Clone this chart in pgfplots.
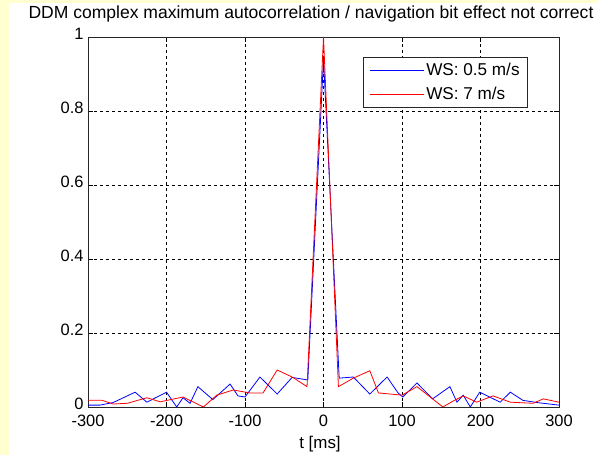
\documentclass[border=0pt]{standalone}
\usepackage{pgfplots}
\pgfplotsset{compat=1.18}
\usepackage{fontspec}
\setmainfont{Liberation Sans}
\definecolor{bgyellow}{RGB}{255,255,208}
\definecolor{mblue}{RGB}{0,0,255}
\definecolor{mred}{RGB}{255,0,0}
\begin{document}
\begin{tikzpicture}[x=1bp,y=1bp]
\useasboundingbox (0,0) rectangle (597,455);
\fill[white] (0,0) rectangle (597,455);
\fill[bgyellow] (0,0) rectangle (9,455);
\fill[bgyellow] (0,452) rectangle (597,455);
\node[font=\fontsize{17.6}{17.6}\selectfont] at (311,441) {DDM complex maximum autocorrelation / navigation bit effect not correct};
\node[font=\fontsize{17}{17}\selectfont] at (320,11) {t [ms]};
\begin{axis}[
  at={(88bp,48bp)}, anchor=south west,
  scale only axis, width=471bp, height=370bp,
  xmin=-300, xmax=300, ymin=0, ymax=1,
  xtick={-300,-200,-100,0,100,200,300},
  xticklabels={-300,-200,-100,0,100,200,300},
  ytick={0,0.2,0.4,0.6,0.8,1},
  yticklabels={0,0.2,0.4,0.6,0.8,1},
  /pgf/number format/assume math mode=true,
  ticklabel style={font=\fontsize{16.5}{16.5}\selectfont},
  xticklabel style={yshift=-5bp},
  yticklabel style={yshift=3bp, xshift=-1bp},
  grid=major,
  major grid style={black, dash pattern=on 3bp off 3bp, line width=0.6bp},
  tick align=inside, major tick length=5bp,
  tick style={black, line width=0.6bp},
  axis line style={black!85, line width=0.9bp},
  legend style={at={(rel axis cs:0.584,0.946)}, anchor=north west,
    draw=black!85, line width=0.8bp, font=\fontsize{17.2}{17.2}\selectfont,
    inner xsep=6bp, inner ysep=4bp, row sep=6bp, cells={anchor=west},
    /tikz/every even column/.append style={column sep=0pt}},
  legend image code/.code={\draw[#1] (0bp,0bp) -- (54bp,0bp);},
]
\addplot[color=mblue, line width=0.8bp] coordinates {
(-300,0.005) (-285,0.005) (-268,0.012) (-240,0.04) (-225,0.013) (-200,0.04)
(-187,0.0) (-179,0.025) (-170,0.01) (-160,0.055) (-141,0.02) (-119,0.062)
(-109,0.03) (-100,0.027) (-81,0.081) (-59,0.035) (-40,0.08) (-20,0.073)
(0,0.94) (20,0.078) (38,0.081) (59,0.035) (81,0.081) (95,0.038) (101,0.027)
(119,0.065) (139,0.022) (161,0.055) (170,0.013) (178,0.032) (187,0.0)
(199,0.04) (225,0.013) (238,0.04) (254,0.018) (272,0.012) (300,0.005)
};
\addlegendentry{WS: 0.5 m/s}
\addplot[color=mred, line width=0.8bp] coordinates {
(-300,0.018) (-282,0.018) (-268,0.008) (-250,0.01) (-225,0.025) (-208,0.014)
(-179,0.027) (-153,0.0) (-136,0.032) (-115,0.046) (-94,0.038) (-77,0.038)
(-59,0.1) (-39,0.08) (-21,0.055) (0,1.0) (19,0.055) (38,0.078) (59,0.098)
(70,0.038) (100,0.032) (119,0.055) (136,0.027) (152,0.0) (165,0.016)
(178,0.03) (195,0.013) (216,0.03) (238,0.013) (267,0.01) (280,0.022) (300,0.013)
};
\addlegendentry{WS: 7 m/s}
\end{axis}
\end{tikzpicture}
\end{document}
